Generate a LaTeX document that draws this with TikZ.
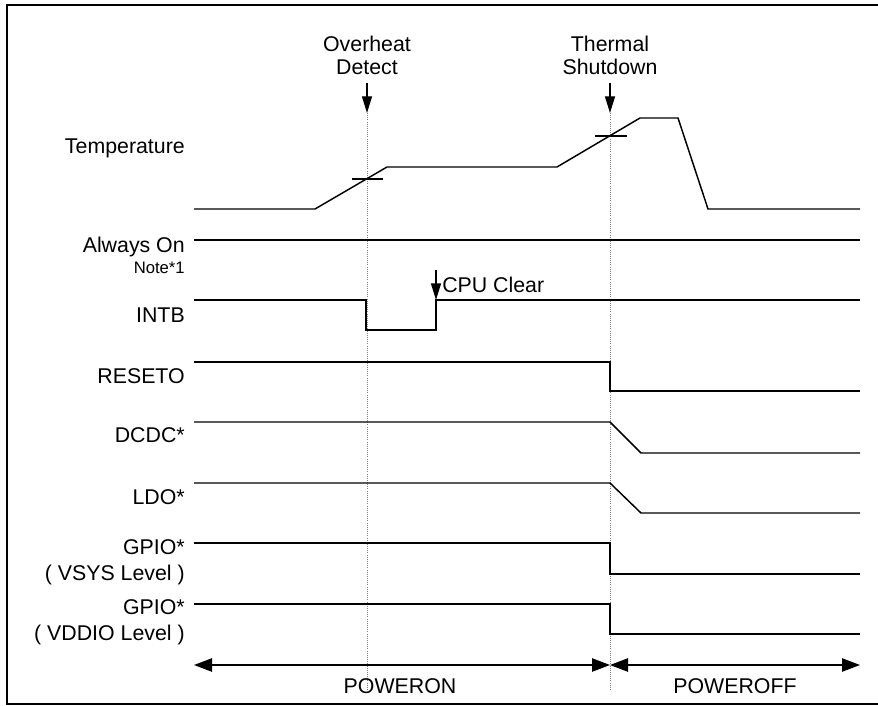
\documentclass[tikz,border=0pt]{standalone}
\usepackage{fontspec}
\setmainfont{Liberation Sans}
\usetikzlibrary{arrows.meta,positioning}

\begin{document}
\begin{tikzpicture}[x=0.75pt,y=-0.75pt,
                    sig/.style={line width=1.1pt, black},
                    guide/.style={densely dotted, gray, line width=0.6pt},
                    tickmark/.style={line width=0.9pt, black},
                    event/.style={line width=1pt, -{Triangle[length=12.5pt,width=7.5pt]}},
                    span/.style={line width=1pt, {Triangle[length=13.5pt,width=10pt]}-{Triangle[length=13.5pt,width=10pt]}},
                    lbl/.style={font=\fontsize{16}{18}\selectfont, anchor=base east, inner sep=0pt},
                    top/.style={font=\fontsize{16}{18}\selectfont, anchor=base, inner sep=0pt},
                    note/.style={font=\fontsize{12.5}{14}\selectfont, anchor=base east, inner sep=0pt},
                   ]

\useasboundingbox (0,0) rectangle (878,706);

% frame
\draw[line width=1.8pt] (878,5) -- (7,5) -- (7,704) -- (878,704);

% event markers
\coordinate (od) at (367,113);
\coordinate (ts) at (610,113);
\node[top] (odA) at (367,52) {Overheat};
\node[top] (odB) at (367,75) {Detect};
\node[top] (tsA) at (610,52) {Thermal};
\node[top] (tsB) at (610,75) {Shutdown};
\draw[event] (367,83) -- (od);
\draw[event] (610,83) -- (ts);
\draw[guide] (od) -- (367,690);
\draw[guide] (ts) -- (610,690);

% signal names
\node[lbl] (temp)  at (185,154) {Temperature};
\node[lbl] (aon)   at (185,252) {Always On};
\node[note] (note) at (185,273) {Note*1};
\node[lbl] (intb)  at (185,322) {INTB};
\node[lbl] (rst)   at (185,383) {RESETO};
\node[lbl] (dcdc)  at (185,442) {DCDC*};
\node[lbl] (ldo)   at (185,504) {LDO*};
\node[lbl] (gpa)   at (185,554) {GPIO*};
\node[lbl] (gpaL)  at (185,580) {( VSYS Level )};
\node[lbl] (gpb)   at (185,614) {GPIO*};
\node[lbl] (gpbL)  at (185,640) {( VDDIO Level )};

% waveforms
\draw[sig] (194,209) -- (315,209) -- (387,167) -- (557,167) -- (640,118) -- (678,118) -- (708,209) -- (860,209);
\draw[tickmark] (352,179) -- (383,179);
\draw[tickmark] (595,136) -- (627,136);

\draw[sig] (194,240) -- (860,240);

\draw[sig] (194,300) -- (366,300) -- (366,330) -- (436,330) -- (436,300) -- (860,300);
\coordinate (clr) at (436,300);
\draw[event] (436,270) -- (clr);
\node[anchor=base west, inner sep=0pt, font=\fontsize{16}{18}\selectfont] (clrL) at (442,292) {CPU Clear};

\draw[sig] (194,362) -- (610,362) -- (610,391) -- (860,391);
\draw[sig] (194,422) -- (610,422) -- (641,453) -- (860,453);
\draw[sig] (194,483) -- (610,483) -- (641,513) -- (860,513);
\draw[sig] (194,543) -- (610,543) -- (610,574) -- (860,574);
\draw[sig] (194,604) -- (610,604) -- (610,634) -- (860,634);

% phases
\coordinate (pL) at (194,665);
\coordinate (pM) at (610,665);
\coordinate (pR) at (860,665);
\draw[span] (pL) -- (pM);
\draw[span] (pM) -- (pR);
\node[top] (on)  at (400,693) {POWERON};
\node[top] (off) at (735,693) {POWEROFF};

\end{tikzpicture}
\end{document}
